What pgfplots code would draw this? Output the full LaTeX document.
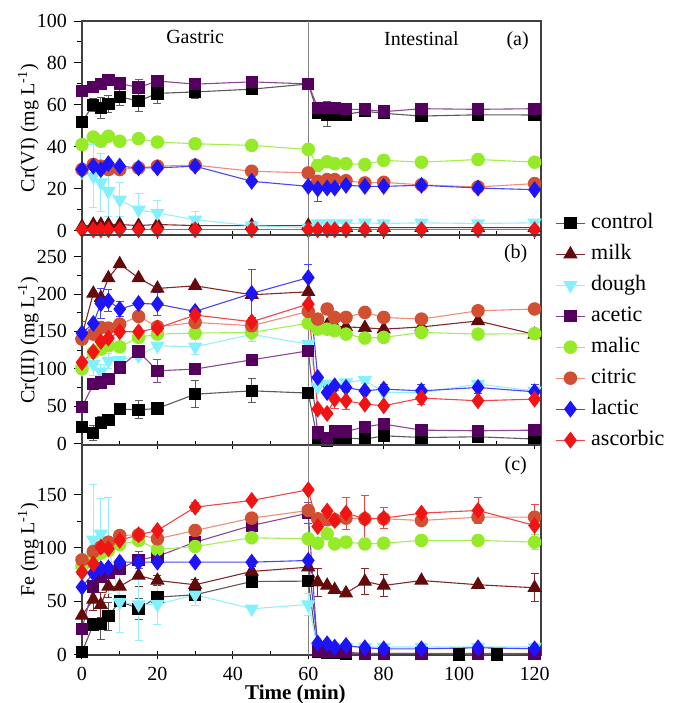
\documentclass[border=0pt]{standalone}
\usepackage{fontspec}
\setmainfont{Liberation Serif}
\usepackage{pgfplots}
\pgfplotsset{compat=1.18}

\definecolor{ctrlM}{RGB}{0,0,0}
\definecolor{ctrlL}{RGB}{90,90,90}
\definecolor{milkM}{RGB}{100,10,10}
\definecolor{milkL}{RGB}{130,40,40}
\definecolor{doughM}{RGB}{130,240,255}
\definecolor{doughL}{RGB}{150,240,250}
\definecolor{aceM}{RGB}{85,0,95}
\definecolor{aceL}{RGB}{140,70,150}
\definecolor{malM}{RGB}{150,235,40}
\definecolor{malL}{RGB}{160,240,80}
\definecolor{citM}{RGB}{210,80,50}
\definecolor{citL}{RGB}{240,140,120}
\definecolor{lacM}{RGB}{30,20,250}
\definecolor{lacL}{RGB}{70,70,250}
\definecolor{ascM}{RGB}{240,20,20}
\definecolor{ascL}{RGB}{240,70,70}

\pgfplotsset{
  panel/.style={
    scale only axis, width=229.5pt,
    xmin=0, xmax=121.7,
    xtick={0,20,...,120}, minor x tick num=1,
    minor y tick num=1,
    tick align=outside,
    xtick pos=bottom, ytick pos=left,
    xtick style={yshift=2pt},
    major tick length=4pt, minor tick length=2.5pt,
    tick style={black, line width=0.5pt},
    axis line style={line width=0.6pt, black!75},
    tick label style={font=\fontsize{10}{12}\selectfont},
    xticklabel style={yshift=1.5pt},
    /pgf/number format/assume math mode=true,
    label style={font=\fontsize{9.7}{11}\selectfont},
    every axis y label/.style={at={(axis description cs:-0.117,0.5)}, rotate=90, anchor=center},
    every axis plot/.append style={line width=0.55pt},
    error bars/y dir=both, error bars/y explicit,
    error bars/error bar style={line width=0.5pt},
    error bars/error mark options={rotate=90, mark size=2pt, line width=0.5pt},
  },
  sctrl/.style={color=ctrlL, mark=square*, mark size=2.8pt, mark options={solid, fill=ctrlM, draw=ctrlM}},
  smilk/.style={color=milkL, mark=triangle*, mark size=3.6pt, mark options={solid, fill=milkM, draw=milkM}},
  sdough/.style={color=doughL, mark=triangle*, mark size=3.6pt, mark options={solid, rotate=180, fill=doughM, draw=doughM}},
  sace/.style={color=aceL, mark=square*, mark size=2.8pt, mark options={solid, fill=aceM, draw=aceM}},
  smal/.style={color=malL, mark=*, mark size=3.1pt, mark options={solid, fill=malM, draw=malM}},
  scit/.style={color=citL, mark=*, mark size=3.1pt, mark options={solid, fill=citM, draw=citM}},
  slac/.style={color=lacL, mark=diamond*, mark size=3.8pt, mark options={solid, fill=lacM, draw=lacM}},
  sasc/.style={color=ascL, mark=diamond*, mark size=3.8pt, mark options={solid, fill=ascM, draw=ascM}},
}

\begin{document}
\begin{tikzpicture}
% ---------------- (a) Cr(VI) ----------------
\begin{axis}[panel, name=a, height=107pt,
  ymin=-2, ymax=100, ytick={0,20,...,100}, xticklabels={},
  ylabel={Cr(VI) (mg L\textsuperscript{-1})},
  legend style={at={(1.018,0.125)}, anchor=north west, draw=none, fill=none,
    font=\fontsize{11}{13}\selectfont, row sep=5pt,
    nodes={inner sep=0pt, text height=8pt, text depth=2.5pt},
    /tikz/every odd column/.append style={column sep=3pt}},
  legend cell align=left,
  legend image code/.code={\draw[mark repeat=2,mark phase=2] plot coordinates {(0cm,0cm) (0.25cm,0cm) (0.5cm,0cm)};},
]
\draw[gray, line width=0.7pt] (axis cs:60,-2) -- (axis cs:60,100);
\addplot[sctrl] coordinates {(0,52) (3,60) +- (0,3) (5,58.4) +- (0,5) (7,60.3) +- (0,4) (10,63.8) +- (0,4) (15,61.9) +- (0,5) (20,65.5) +- (0,5) (30,66.2) +- (0,3) (45,67.5) (60,70)
  (62.5,56) (65,55.5) +- (0,6) (67,55.5) (70,55.5) (75,57) (80,56) (90,54.7) (105,55.3) (120,55.2)};
\addlegendentry{control}
\addplot[smilk] coordinates {(0,2) (3,3) (5,3) (7,3) (10,3) (15,2.5) (20,3) (30,2.5) (45,2.5) (60,2.5)
  (62.5,1.5) (65,1.5) (67,1.5) (70,1.5) (75,1.5) (80,1.5) (90,1.5) (105,1.5) (120,1.5)};
\addlegendentry{milk}
\addplot[sdough] coordinates {(0,28) (3,26) +- (0,15) (5,23) +- (0,14) (7,18.8) +- (0,12) (10,14.8) +- (0,8) (15,10) +- (0,8) (20,8.5) +- (0,6) (30,5.3) +- (0,4) (45,2.4) +- (0,2) (60,1.5)
  (62.5,3.5) (65,3.5) (67,3.5) (70,3.5) (75,3.8) (80,3.5) (90,3.8) (105,3.5) (120,3.8)};
\addlegendentry{dough}
\addplot[sace] coordinates {(0,66.7) (3,68.7) (5,69.9) (7,72) (10,70.2) (15,68.3) +- (0,4) (20,71.4) +- (0,2) (30,69.9) (45,71) (60,70)
  (62.5,58.7) (65,58.7) (67,58.7) (70,57.9) (75,57.9) (80,56.8) (90,58.2) (105,57.9) (120,58.2)};
\addlegendentry{acetic}
\addplot[smal] coordinates {(0,41.1) (3,44.7) (5,42.7) (7,45.1) (10,42.7) (15,43.9) (20,42.3) (30,41.5) (45,40.7) (60,38.8)
  (62.5,31.1) (65,32.9) (67,32) (70,32) (75,31.6) (80,33.6) (90,32.7) (105,34) (120,32.7)};
\addlegendentry{malic}
\addplot[scit] coordinates {(0,29.2) (3,31.6) (5,30.8) (7,29.2) (10,29.2) (15,30) (20,30.8) (30,31.3) (45,28.4) (60,27.6)
  (62.5,23.6) (65,24.4) (67,24.4) (70,23.9) (75,22.8) (80,23.1) (90,21.9) (105,20.9) (120,22.5)};
\addlegendentry{citric}
\addplot[slac] coordinates {(0,29.2) (3,30.8) (5,29.2) (7,32) (10,30.8) (15,30) (20,30) (30,30.8) (45,23.6) (60,21.2)
  (62.5,20) +- (0,6) (65,20.4) (67,20.4) (70,21.7) (75,21.2) (80,21.2) (90,21.7) (105,20.4) (120,19.6)};
\addlegendentry{lactic}
\addplot[sasc] coordinates {(0,0.5) (3,0.5) (5,0.5) (7,0.5) (10,0.5) (15,0.5) (20,0.5) (30,0.5) (45,0.5) (60,0.5)
  (62.5,0.5) (65,0.5) (67,0.5) (70,0.5) (75,0.5) (80,0.5) (90,0.5) (105,0.5) (120,0.5)};
\addlegendentry{ascorbic}
\node[font=\fontsize{10}{12}\selectfont] at (axis cs:30,92.5) {Gastric};
\node[font=\fontsize{10}{12}\selectfont] at (axis cs:90,91.5) {Intestinal};
\node[font=\fontsize{10}{12}\selectfont] at (axis cs:115.5,90.5) {(a)};
\end{axis}

% ---------------- (b) Cr(III) ----------------
\begin{axis}[panel, name=b, at={(a.south west)}, anchor=north west, height=105pt,
  ymin=-2, ymax=279, ytick={0,50,...,250}, xticklabels={},
  ylabel={Cr(III) (mg L\textsuperscript{-1})},
]
\draw[gray, line width=0.7pt] (axis cs:60,-2) -- (axis cs:60,279);
\addplot[sctrl] coordinates {(0,22.4) (3,13.9) +- (0,10) (5,27.7) +- (0,8) (7,31.3) +- (0,6) (10,46) (15,45.1) +- (0,12) (20,46.9) (30,66) +- (0,18) (45,70.5) +- (0,16) (60,67.5) +- (0,4)
  (62.5,4.5) (65,4) (67,8) (70,7.5) (75,5.8) (80,10.3) (90,8) (105,9) (120,6)};
\addplot[smilk] coordinates {(0,145) (3,200.8) (5,195) (7,221.4) (10,240.2) (15,221.4) (20,207.5) (30,211) (45,199) (60,203)
  (62.5,160) (65,158) (67,157) (70,156) (75,155) (80,153) (90,156) (105,164) (120,146)};
\addplot[sdough] coordinates {(0,100) (3,106) +- (0,15) (5,96) +- (0,10) (7,110.7) +- (0,10) (10,111.6) (15,117.4) +- (0,5) (20,130.8) (30,129.4) +- (0,10) (45,146) +- (0,10) (60,133) +- (0,5)
  (62.5,76) (65,80) (67,75) (70,81.7) (75,84.9) +- (0,5) (80,68.3) (90,68) (105,79.5) +- (0,5) (120,70.5)};
\addplot[sace] coordinates {(0,49) (3,79.5) (5,81.7) (7,86.2) (10,101.7) (15,123) +- (0,8) (20,97.3) +- (0,15) (30,99.6) (45,112) +- (0,5) (60,124)
  (62.5,14.7) (65,7.2) (67,16) (70,16) (75,22.4) (80,26) (90,17.9) (105,17) (120,17.9)};
\addplot[smal] coordinates {(0,100) (3,121.8) (5,126.3) (7,130.8) (10,129.4) (15,142) (20,146.4) (30,147.8) (45,148.6) (60,161)
  (62.5,153.1) +- (0,5) (65,153) (67,150.9) +- (0,5) (70,146.4) (75,141.1) (80,142) (90,148.6) (105,146.4) (120,147)};
\addplot[scit] coordinates {(0,139.7) (3,146.4) (5,155.3) (7,154.5) (10,159.8) (15,170) (20,156.2) (30,162) (45,157.6) (60,176.7)
  (62.5,166.5) (65,180) (67,168.7) (70,168.7) (75,175.4) (80,168.7) (90,166.5) (105,177.6) (120,180) +- (0,6)};
\addplot[slac] coordinates {(0,147.8) +- (0,15) (3,160.6) (5,187.4) +- (0,20) (7,191) +- (0,15) (10,179.9) +- (0,10) (15,187.4) (20,186.6) +- (0,15) (30,176.7) (45,200.8) +- (0,32) (60,222) +- (0,17)
  (62.5,88.4) (65,68.3) (67,77.2) (70,75) (75,70.5) (80,72.8) +- (0,6) (90,70.5) +- (0,8) (105,75) +- (0,8) (120,69.2) +- (0,10)};
\addplot[sasc] coordinates {(0,108.4) (3,122.8) (5,136.5) (7,141.1) (10,149.5) (15,149.5) (20,154.5) (30,171.9) (45,162.9) (60,186.6)
  (62.5,46) (65,40.2) (67,59.4) +- (0,12) (70,57.2) +- (0,12) (75,52.7) (80,50.5) (90,60.8) +- (0,8) (105,57.2) (120,59.4)};
\node[font=\fontsize{10}{12}\selectfont] at (axis cs:115,254) {(b)};
\end{axis}

% ---------------- (c) Fe ----------------
\begin{axis}[panel, name=c, at={(b.south west)}, anchor=north west, height=105pt,
  ymin=-0.5, ymax=196.5, ytick={0,50,100,150},
  ylabel={Fe (mg L\textsuperscript{-1})},
  xlabel={\bfseries Time (min)},
  xlabel style={font=\fontsize{10.5}{12}\selectfont, at={(axis description cs:0.465,0)}, anchor=north, yshift=-11.5pt},
]
\draw[gray, line width=0.7pt] (axis cs:60,-0.5) -- (axis cs:60,196.5);
\addplot[sctrl] coordinates {(0,2.2) (3,28.1) (5,28.8) +- (0,15) (7,35.9) +- (0,13) (10,50) (15,42.9) +- (0,10) (20,53.8) (30,56) +- (0,5) (45,68.5) +- (0,3) (60,68.8)
  (62.5,2) (65,1.5) (67,1.5) (70,1) (75,1) (80,1) (90,1) (100,0) (110,0) (120,1)};
\addplot[smilk] coordinates {(0,36.6) (3,51.6) +- (0,10) (5,46.6) +- (0,12) (7,63.8) +- (0,10) (10,63.8) (15,74.1) +- (0,10) (20,69.4) +- (0,5) (30,65.4) +- (0,5) (45,77.9) +- (0,5) (60,81.9)
  (62.5,67.8) +- (0,13) (65,64.7) (67,60.7) (70,57.5) (75,68.5) +- (0,12) (80,64.7) +- (0,10) (90,69.4) (105,65.4) (120,62.6) +- (0,13)};
\addplot[sdough] coordinates {(0,88) (3,107.6) +- (0,52) (5,113.2) +- (0,33) (7,102) +- (0,45) (10,49) +- (0,28) (15,46.9) +- (0,34) (20,47) +- (0,19) (30,56) +- (0,10) (45,42.9) (60,46.9) +- (0,10)
  (62.5,7) (65,7) (67,7) (70,7) (75,7) (80,7) (90,7) (105,7) (120,7)};
\addplot[sace] coordinates {(0,24.1) (3,63.8) (5,73.2) (7,76.3) (10,80.4) (15,88.8) +- (0,8) (20,92) (30,105.4) +- (0,5) (45,121) +- (0,5) (60,132.6) +- (0,10)
  (62.5,3) (65,2) (67,2) (70,2) (75,1) (80,1) (90,1) (105,1) (120,1)};
\addplot[smal] coordinates {(0,83) (3,91.3) (5,95) (7,97.6) (10,103.2) (15,107) (20,98.5) (30,101.3) (45,109.5) (60,108.5)
  (62.5,104.4) (65,113.2) (67,103.7) (70,105.4) +- (0,5) (75,103.7) (80,104.4) (90,107) (105,107) (120,105.4) +- (0,7)};
\addplot[scit] coordinates {(0,88.8) (3,96.6) (5,100.7) (7,105.4) (10,111.6) (15,112.3) (20,108.5) (30,116.3) (45,127.9) (60,135.1)
  (62.5,127.3) (65,126.4) (67,126.4) (70,127.9) (75,127.3) (80,127.3) (90,125.7) (105,128.8) (120,128.8)};
\addplot[slac] coordinates {(0,63.2) (3,76.3) (5,80.4) (7,81.3) (10,86.6) (15,86.6) (20,86.6) (30,86.6) (45,86.6) (60,88.2)
  (62.5,10.6) (65,10) (67,6.9) (70,8.4) (75,6.3) (80,5.3) (90,5.3) (105,6.3) (120,5.3)};
\addplot[sasc] coordinates {(0,77.2) (3,85.1) (5,100.7) (7,99.2) (10,107) (15,112.3) (20,116.3) (30,138.2) +- (0,4) (45,144.5) (60,154.5)
  (62.5,120) (65,134.5) (67,125.7) (70,132.6) +- (0,15) (75,127.3) +- (0,22) (80,127.9) +- (0,10) (90,132.6) (105,135.1) +- (0,12) (120,121) +- (0,20)};
\node[font=\fontsize{10}{12}\selectfont] at (axis cs:115,177) {(c)};
\end{axis}

\pgfresetboundingbox
\path[use as bounding box] (a.north west) ++(-41pt,10.5pt) rectangle ++(337.5pt,-351.5pt);
\end{tikzpicture}
\end{document}
